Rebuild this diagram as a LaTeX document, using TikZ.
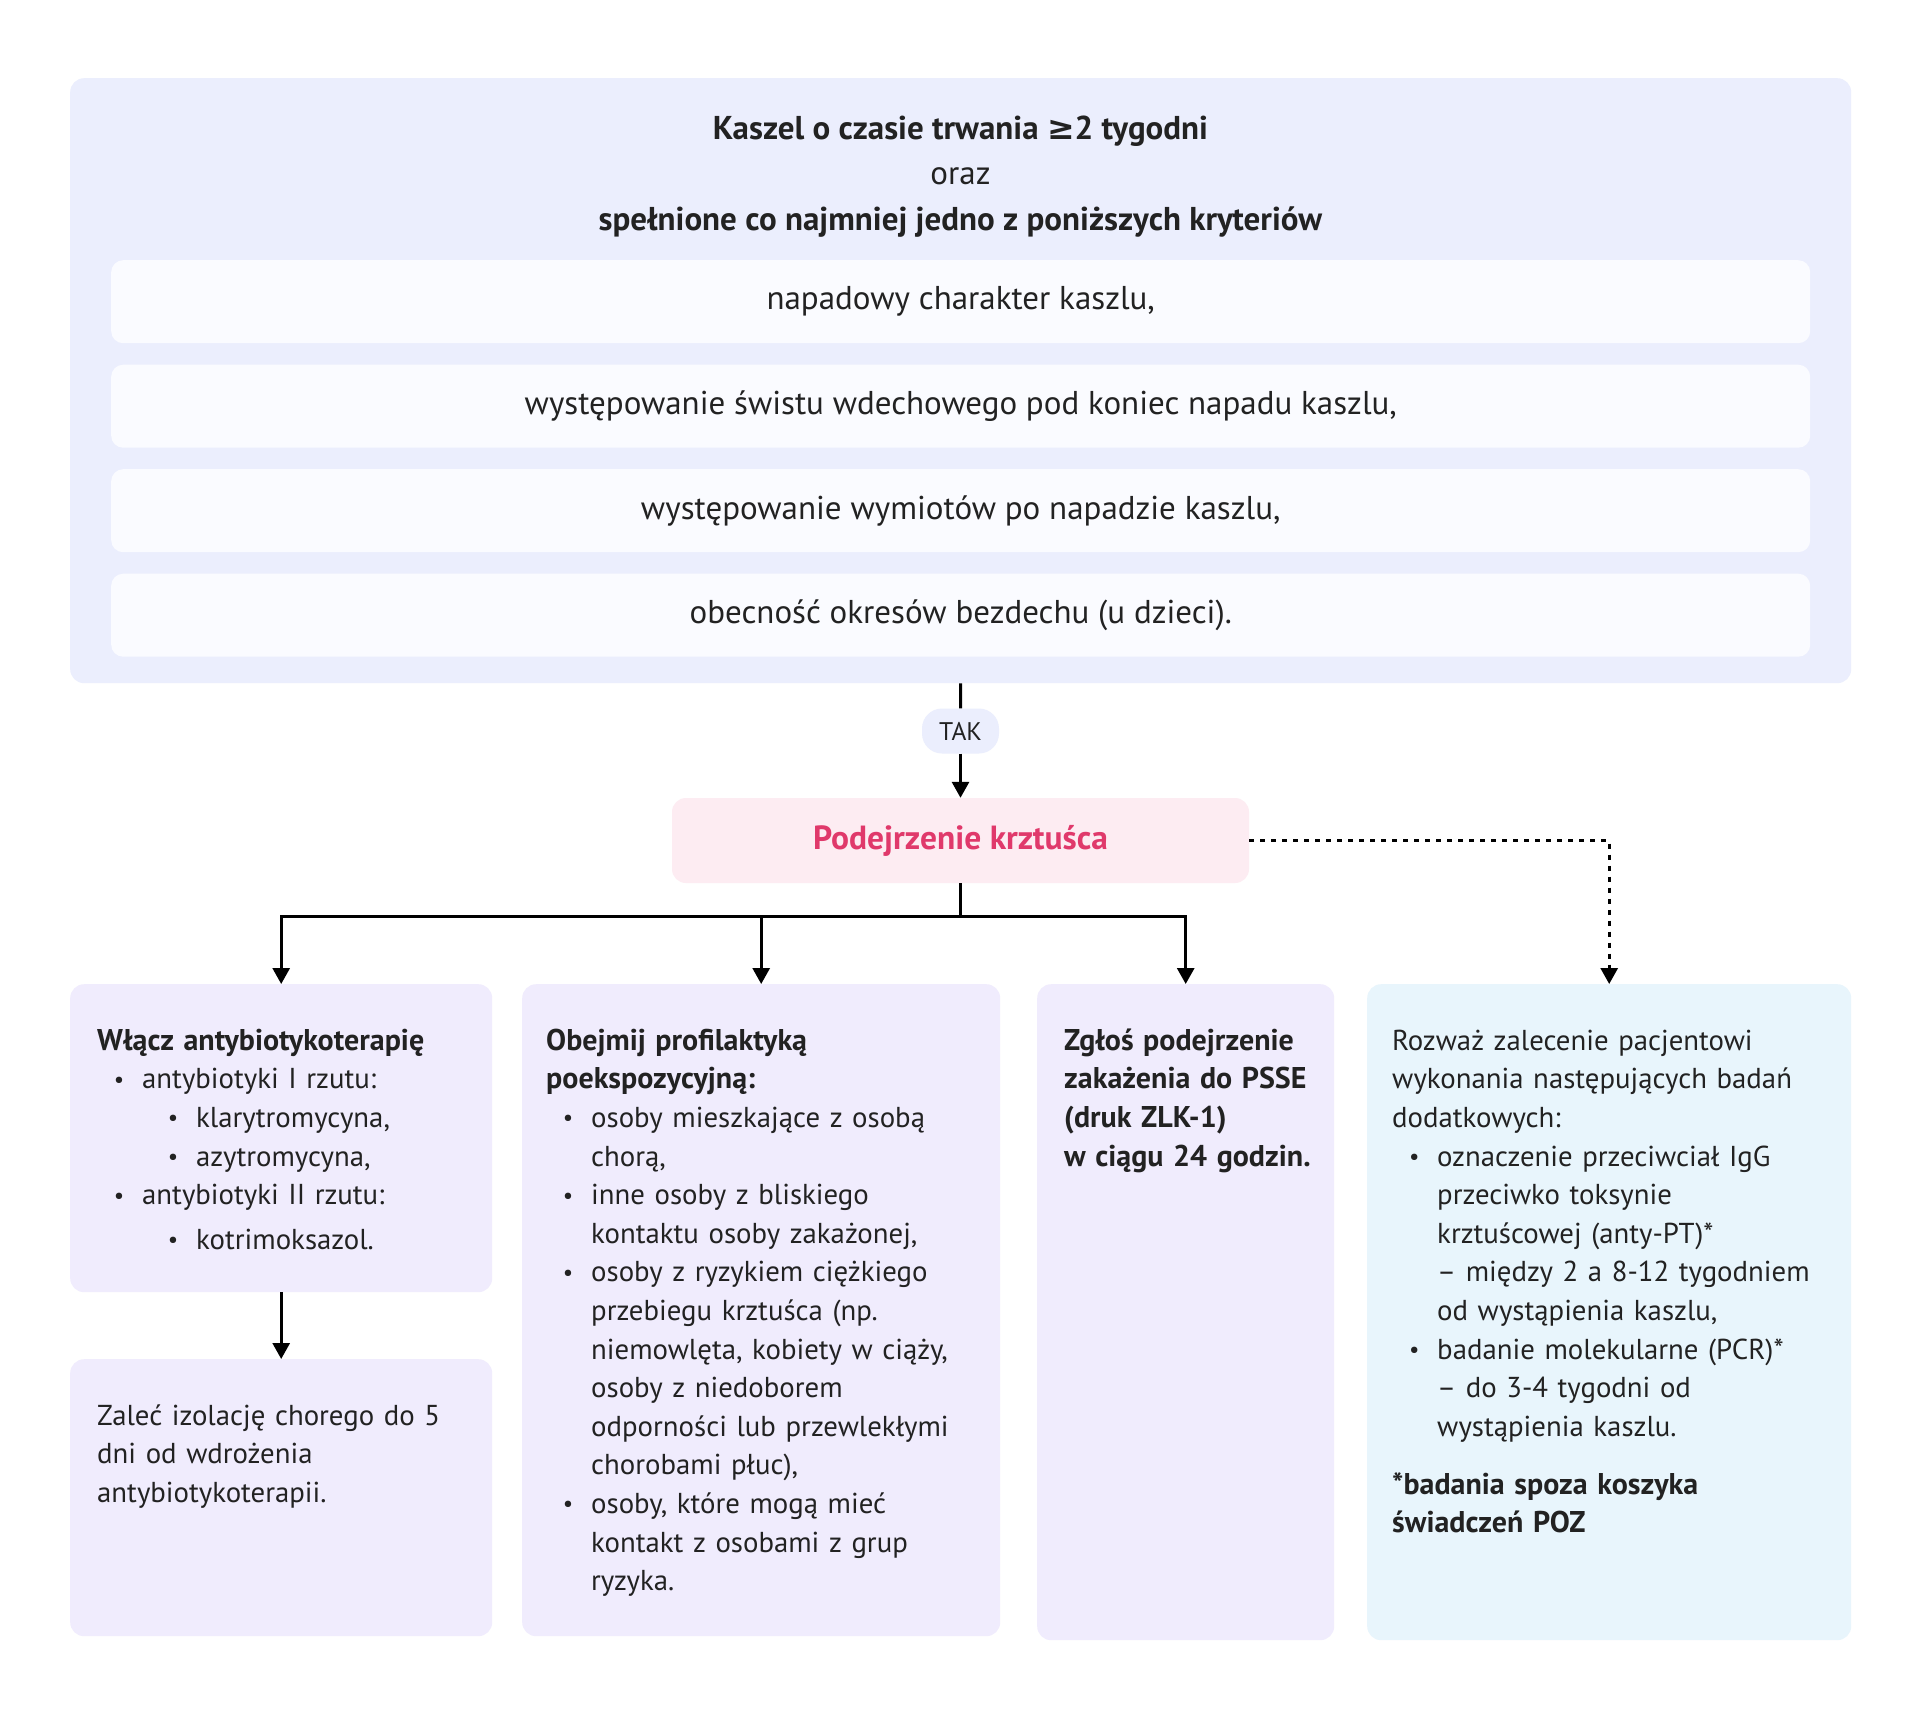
\documentclass[tikz,border=0pt]{standalone}
\usepackage{fontspec}
\setmainfont{PT Sans}
\newfontfamily\symfont{DejaVu Sans}
\usepackage{xcolor}
\usepackage{tikz}
\usetikzlibrary{calc}
\usetikzlibrary{arrows.meta}

\definecolor{critbg}{HTML}{EBEEFD}
\definecolor{itembg}{HTML}{FAFBFF}
\definecolor{lilac}{HTML}{F0ECFD}
\definecolor{skybg}{HTML}{E8F5FC}
\definecolor{pinkbg}{HTML}{FDECF2}
\definecolor{pinktxt}{HTML}{E0396B}
\definecolor{ink}{HTML}{222222}

\newcommand{\bodyfont}{\fontsize{28.8pt}{38.6pt}\selectfont}
\newcommand{\critfont}{\fontsize{33pt}{45.5pt}\selectfont}
\newcommand{\hd}[1]{{\fontsize{30pt}{38.6pt}\selectfont\bfseries #1}}
\newcommand{\bl}[1]{\hspace*{#1pt}\makebox[0pt]{\raisebox{1.5pt}{\scalebox{0.8}{\textbullet}}}\hspace*{23pt}}
\newcommand{\ct}[1]{\hspace*{#1pt}}
\newcommand{\topstrut}{\rule{0pt}{30pt}}

\begin{document}
\begin{tikzpicture}[x=1pt,y=-1pt,>={Triangle[length=16pt,width=17pt]},
		panel/.style={rounded corners=14pt, inner sep=0pt, anchor=north west},
		txt/.style={inner sep=0pt, anchor=north west, text width=500pt, align=left, text=ink, font=\bodyfont},
		link/.style={line width=3pt, draw=black}]
		\fill[white] (0,0) rectangle (1920,1713);

		% Criteria box
		\node at (70,78) (crit) [panel, fill=critbg, minimum width=1781pt, minimum height=605pt] {};
		\node at (960.5,109) (crittitle) [inner sep=0pt, anchor=north, align=center, text=ink, font=\critfont]
			{\topstrut\textbf{Kaszel o czasie trwania {\symfont\bfseries ≥}2 tygodni}\\oraz\\\textbf{spełnione co najmniej jedno z poniższych kryteriów}};
		\foreach \t [count=\i] in {{napadowy charakter kaszlu,},{występowanie świstu wdechowego pod koniec napadu kaszlu,},{występowanie wymiotów po napadzie kaszlu,},{obecność okresów bezdechu (u dzieci).}}{
			\node at (111,{260+(\i-1)*104.5}) (item\i) [panel, rounded corners=12pt, fill=itembg, minimum width=1699pt, minimum height=83pt, text=ink, font=\critfont] {\t};
		}

		% TAK and suspicion
		\node at (960.5,731) (tak) [rounded corners=20pt, fill=critbg, minimum width=77pt, minimum height=45pt, inner sep=0pt, text=ink, font=\fontsize{25.5pt}{28pt}\selectfont] {TAK};
		\node at (960.5,840.5) (susp) [rounded corners=14pt, fill=pinkbg, minimum width=577pt, minimum height=85pt, inner sep=0pt, text=pinktxt, font=\fontsize{33.5pt}{38pt}\selectfont\bfseries] {Podejrzenie krztuśca};

		% Bottom boxes
		\node at (70,984) (abx) [panel, fill=lilac, minimum width=422pt, minimum height=308pt] {};
		\node at (70,1359) (azx) [panel, fill=lilac, minimum width=422pt, minimum height=277pt] {};
		\node at (522,984) (bbx) [panel, fill=lilac, minimum width=478pt, minimum height=652pt] {};
		\node at (1037,984) (cbx) [panel, fill=lilac, minimum width=297pt, minimum height=656pt] {};
		\node at (1367,984) (dbx) [panel, fill=skybg, minimum width=484pt, minimum height=656pt] {};

		\node at (97,1020) (atxt) [txt] {\topstrut\hd{Włącz antybiotykoterapię}\\
			\bl{22}antybiotyki I rzutu:\\
			\bl{76}klarytromycyna,\\
			\bl{76}azytromycyna,\\
			\bl{22}antybiotyki II rzutu:\\[6pt]
			\bl{76}kotrimoksazol.};
		\node at (97,1395) (aztxt) [txt] {\topstrut Zaleć izolację chorego do 5\\dni od wdrożenia\\antybiotykoterapii.};
		\node at (546,1020) (btxt) [txt] {\topstrut\hd{Obejmij profilaktyką}\\
			\hd{poekspozycyjną:}\\
			\bl{22}osoby mieszkające z osobą\\
			\ct{45}chorą,\\
			\bl{22}inne osoby z bliskiego\\
			\ct{45}kontaktu osoby zakażonej,\\
			\bl{22}osoby z ryzykiem ciężkiego\\
			\ct{45}przebiegu krztuśca (np.\\
			\ct{45}niemowlęta, kobiety w ciąży,\\
			\ct{45}osoby z niedoborem\\
			\ct{45}odporności lub przewlekłymi\\
			\ct{45}chorobami płuc),\\
			\bl{22}osoby, które mogą mieć\\
			\ct{45}kontakt z osobami z grup\\
			\ct{45}ryzyka.};
		\node at (1064,1020) (ctxt) [txt] {\topstrut\hd{Zgłoś podejrzenie}\\\hd{zakażenia do PSSE}\\\hd{(druk ZLK-1)}\\\hd{w ciągu 24 godzin.}};
		\node at (1392,1020) (dtxt) [txt] {\topstrut Rozważ zalecenie pacjentowi\\
			wykonania następujących badań\\
			dodatkowych:\\
			\bl{22}oznaczenie przeciwciał IgG\\
			\ct{45}przeciwko toksynie\\
			\ct{45}krztuścowej (anty-PT)*\\
			\ct{45}– między 2 a 8-12 tygodniem\\
			\ct{45}od wystąpienia kaszlu,\\
			\bl{22}badanie molekularne (PCR)*\\
			\ct{45}– do 3-4 tygodni od\\
			\ct{45}wystąpienia kaszlu.\\[19.5pt]
			\hd{*badania spoza koszyka}\\
			\hd{świadczeń POZ}};

		% Connectors
		\coordinate (split) at (960.5,916);
		\draw [link] (crit.south) -- (tak.north);
		\draw [link,->] (tak.south) -- (susp.north);
		\draw [link] (susp.south) -- (split);
		\draw [link,->] (split) -| (abx.north);
		\draw [link,->] (split) -| (bbx.north);
		\draw [link,->] (split) -| (cbx.north);
		\draw [link,->] (abx.south) -- (azx.north);
		\draw [link,dash pattern=on 5pt off 6pt,->] (susp.east) -| (dbx.north);
	\end{tikzpicture}
\end{document}
